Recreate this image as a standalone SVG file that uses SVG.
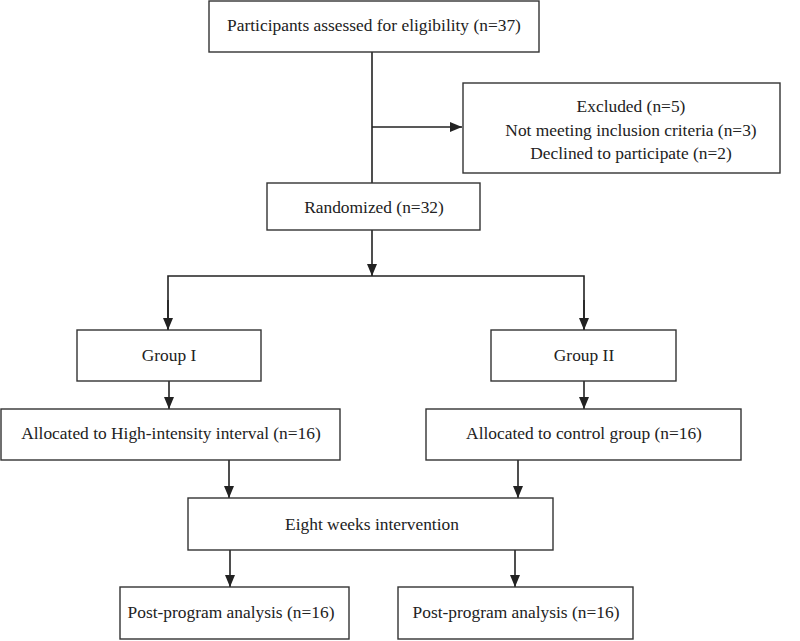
<svg xmlns="http://www.w3.org/2000/svg" width="800" height="641" viewBox="0 0 800 641">
<style>
.box{fill:#fff;stroke:#333;stroke-width:1.4}
.t{font-size:17.4px;fill:#222;text-anchor:middle}
.c{fill:none;stroke:#222;stroke-width:1.6}
</style>
<defs>
<marker id="ah" markerUnits="userSpaceOnUse" markerWidth="13" markerHeight="13" viewBox="0 0 13 13" refX="12" refY="6.5" orient="auto">
<path d="M0,1.5 L12,6.5 L0,11.5 Z" fill="#222"/>
</marker>
</defs>
<rect width="800" height="641" fill="#fff"/>
<g id="connectors">
<line class="c" x1="372" y1="52" x2="372" y2="183"/>
<line class="c" x1="372" y1="127" x2="462" y2="127" marker-end="url(#ah)"/>
<line class="c" x1="372" y1="230" x2="372" y2="276" marker-end="url(#ah)"/>
<polyline class="c" points="168,330 168,276 584,276 584,330"/>
<line class="c" x1="168" y1="300" x2="168" y2="330" marker-end="url(#ah)"/>
<line class="c" x1="584" y1="300" x2="584" y2="330" marker-end="url(#ah)"/>
<line class="c" x1="169" y1="381" x2="169" y2="409" marker-end="url(#ah)"/>
<line class="c" x1="584" y1="381" x2="584" y2="409" marker-end="url(#ah)"/>
<line class="c" x1="229" y1="460" x2="229" y2="498" marker-end="url(#ah)"/>
<line class="c" x1="518" y1="460" x2="518" y2="498" marker-end="url(#ah)"/>
<line class="c" x1="230" y1="550" x2="230" y2="587" marker-end="url(#ah)"/>
<line class="c" x1="515" y1="550" x2="515" y2="587" marker-end="url(#ah)"/>
</g>
<g font-family="'Liberation Serif', 'DejaVu Serif', serif">
<g id="assessed">
<rect class="box" x="209" y="1" width="330" height="51"/>
<text class="t" x="374" y="31">Participants assessed for eligibility (n=37)</text>
</g>
<g id="excluded">
<rect class="box" x="463" y="83" width="317" height="90"/>
<text class="t" x="631" y="112">Excluded (n=5)</text>
<text class="t" x="631" y="136">Not meeting inclusion criteria (n=3)</text>
<text class="t" x="631" y="159">Declined to participate (n=2)</text>
</g>
<g id="randomized">
<rect class="box" x="267" y="183" width="213" height="47"/>
<text class="t" x="374" y="213">Randomized (n=32)</text>
</g>
<g id="group1">
<rect class="box" x="77" y="330" width="184" height="51"/>
<text class="t" x="169" y="361">Group I</text>
</g>
<g id="group2">
<rect class="box" x="491" y="330" width="185" height="51"/>
<text class="t" x="584" y="361">Group II</text>
</g>
<g id="alloc1">
<rect class="box" x="1" y="409" width="339" height="51"/>
<text class="t" x="171" y="439">Allocated to High-intensity interval (n=16)</text>
</g>
<g id="alloc2">
<rect class="box" x="426" y="409" width="315" height="51"/>
<text class="t" x="584" y="439">Allocated to control group (n=16)</text>
</g>
<g id="intervention">
<rect class="box" x="188" y="498" width="365" height="52"/>
<text class="t" x="372" y="530">Eight weeks intervention</text>
</g>
<g id="post1">
<rect class="box" x="120" y="587" width="229" height="52"/>
<text class="t" x="231" y="618">Post-program analysis (n=16)</text>
</g>
<g id="post2">
<rect class="box" x="398" y="587" width="235" height="52"/>
<text class="t" x="516" y="618">Post-program analysis (n=16)</text>
</g>
</g>
</svg>
